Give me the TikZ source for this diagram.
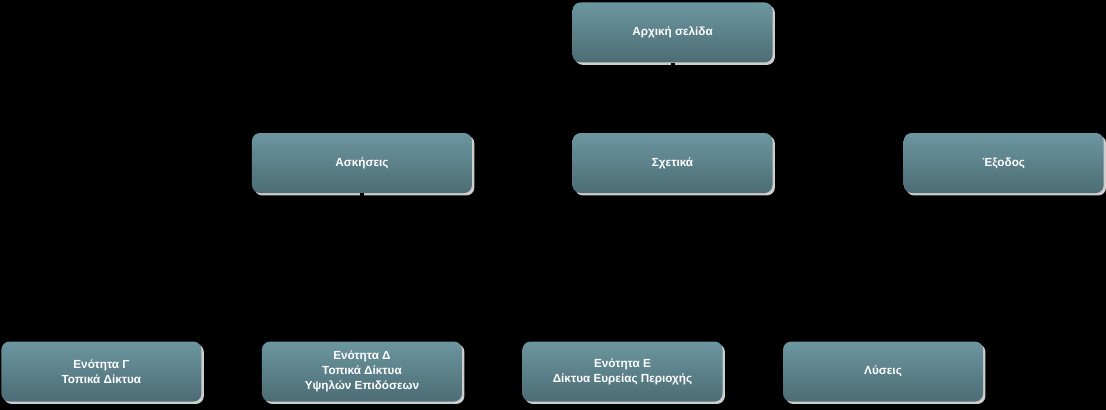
\documentclass[tikz,border=0pt]{standalone}
\usepackage{fontspec}
\setmainfont{Liberation Sans}
\usepackage{tikz}
\usetikzlibrary{positioning}
\usetikzlibrary{shadows}

\definecolor{pagetop}{RGB}{108,150,160}
\definecolor{pagebottom}{RGB}{76,108,116}
\definecolor{shadowgray}{RGB}{205,205,205}

\begin{document}
\begin{tikzpicture}[
    x=0.75pt, y=0.75pt,
    page/.style={rounded corners=6pt, minimum width=150pt, minimum height=45pt, align=center,
        top color=pagetop, bottom color=pagebottom, text=white,
        font=\fontsize{8.8}{11.2}\selectfont\bfseries,
        drop shadow={shadow xshift=1.8pt, shadow yshift=-1.8pt, fill=shadowgray, opacity=1}},
    wide/.style={minimum width=165pt},
    conn/.style={draw=black, line width=3pt}
]

% Background
\useasboundingbox (0,0) rectangle (1106,-410);
\fill[black] (0,0) rectangle (1106,-410);

% Root
\node[page] (home) at (672.5,-32.5) {Αρχική σελίδα};

% Level 1
\node[page, below=52.5pt of home] (about) {Σχετικά};
\node[page, wide, left=75pt of about] (exercises) {Ασκήσεις};
\node[page, right=98pt of about] (exit) {Έξοδος};

% Level 2 (children of exercises)
\node[page, below=111pt of exercises] (unitD) {Ενότητα Δ\\Τοπικά Δίκτυα\\Υψηλών Επιδόσεων};
\node[page, left=45pt of unitD] (unitC) {Ενότητα Γ\\Τοπικά Δίκτυα};
\node[page, right=45pt of unitD] (unitE) {Ενότητα Ε\\Δίκτυα Ευρείας Περιοχής};
\node[page, right=45pt of unitE] (solutions) {Λύσεις};

% Connectors
\draw[conn] (home.south) -- ++(0,-35) -| (exercises.north);
\draw[conn] (home.south) -- (about.north);
\draw[conn] (home.south) -- ++(0,-35) -| (exit.north);

\draw[conn] (exercises.south) -- ++(0,-75) -| (unitC.north);
\draw[conn] (exercises.south) -- (unitD.north);
\draw[conn] (exercises.south) -- ++(0,-75) -| (unitE.north);
\draw[conn] (exercises.south) -- ++(0,-75) -| (solutions.north);

\end{tikzpicture}
\end{document}
